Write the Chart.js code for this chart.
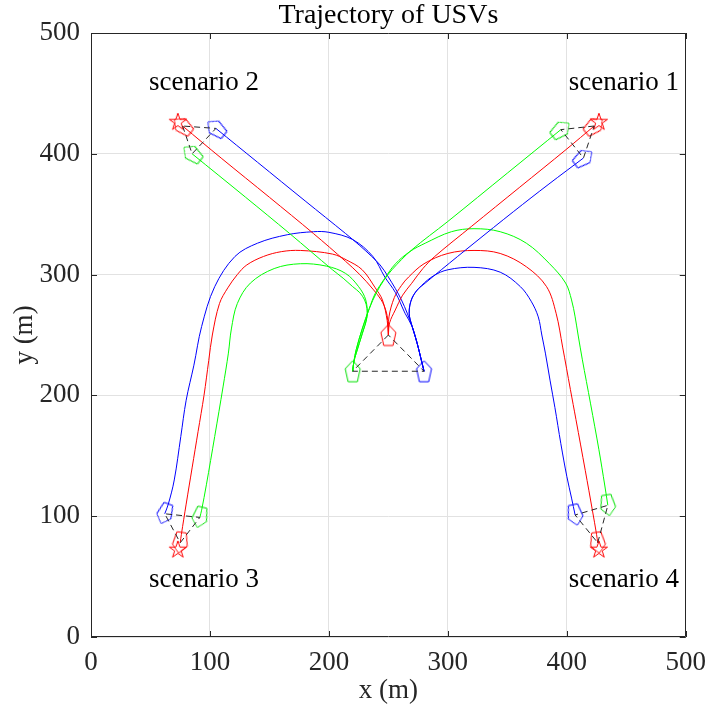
<!DOCTYPE html>
<html><head><meta charset="utf-8">
<script src="https://cdn.jsdelivr.net/npm/chart.js@4/dist/chart.umd.min.js"></script>
<style>html,body{margin:0;padding:0;background:#fff}#wrap{width:716px;height:710px;position:relative}</style>
</head><body><div id="wrap"><canvas id="c"></canvas></div>
<script>
// ---- data (metres) ----
const axisTicks = [0, 100, 200, 300, 400, 500];
const titleText = 'Trajectory of USVs';
const xTitle = 'x (m)';
const yTitle = 'y (m)';
const scenarioNames = ['scenario 1', 'scenario 2', 'scenario 3', 'scenario 4'];
const scenarioAnchors = [[448, 459], [95, 459], [95, 47], [448, 47]];
const goals = [[427, 427], [73, 427], [73, 73], [427, 73]];

// scenario 1 (to top right)
const s1Red   = [[250,250],[251,260],[255.8,270.7],[262,283],[269.6,292.8],[279,305],[289,315],[320,340],[360,372],[400,404],[423,423]];
const s1Green = [[220,220],[221,228],[223,238],[228,255],[234,272],[240,285],[246,295],[253,304],[269.6,320.4],[300,344],[350,384],[395,420]];
const s1Blue  = [[280,220],[277,232],[274,244],[270,257],[267.5,268],[269,278],[274,287],[281,293],[294.5,304],[322,326],[355,352],[385,375],[414,396.5]];
// scenario 2 (to top left)
const s2Red   = [[250,250],[249.5,262],[248,270],[244,279],[237,288],[226,300],[214,311],[187,334],[150,364],[110,396],[77,423]];
const s2Green = [[220,220],[221,228],[223,235],[228,251],[232,265],[232,272],[230,279],[226,285],[220,290],[212,297],[203,304],[167,334],[130,364],[85,400]];
const s2Blue  = [[280,220],[277,232],[275,240],[270,257],[261,279],[250,298],[243,308],[236,315],[226,324],[214,334],[180,361],[140,393],[105,421]];
// scenario 3 (to bottom left)
const s3Red   = [[250,250],[249,262],[245,279],[239,289],[228,304],[215,312],[203,317],[176,320],[160,319],[145,315],[131,308],[123,300],[115,289],[108,276],[102,250],[99,229],[95,200],[90,170],[85,140],[80,110],[76,85],[75,78]];
const s3Green = [[220,220],[221,228],[223,235],[228,251],[232,265],[231,279],[225,290],[214,301],[198,307],[176,309],[154,305],[134,293],[123,276],[118,255],[115.5,235],[111,207],[104,166],[97,126],[93,105],[91.5,99]];
const s3Blue  = [[280,220],[277,232],[275,240],[270,257],[264,268],[256,285],[247,298],[237,315],[220,329],[200,335],[187,335.5],[165,333],[140,326],[121,315],[104,290],[93,257],[86.5,225],[80,196],[75.5,166],[70,130],[65,110],[62,102]];
// scenario 4 (to bottom right)
const s4Red   = [[250,250],[250.5,265],[255,281],[261,291],[267,298],[280,309],[300,317.5],[322,320],[344,317.5],[366,306.5],[383,290],[391,268],[396.5,240],[403,205],[407.7,180],[415.5,138],[421.5,105],[425,85],[426,78]];
const s4Green = [[220,220],[221,228],[223,238],[228,255],[234,272],[239,284.5],[247,297],[256,309],[268,319],[281,326],[303,335.5],[322,338],[344,335.5],[366,326],[385.5,309],[399,293],[404,279],[407,265],[409.5,250],[413,230],[420,193],[427,155],[432,125],[434.5,109]];
const s4Blue  = [[280,220],[277,232],[274,244],[270,257],[267.5,268],[270,281],[278,291],[288,299],[300,304],[322,306],[344,302],[361,290],[370,278],[376,265],[379,250],[382,235],[386,212],[390,190],[395,160],[400,133],[404,115],[407,101]];

const scenarios = [
  {red: s1Red, green: s1Green, blue: s1Blue},
  {red: s2Red, green: s2Green, blue: s2Blue},
  {red: s3Red, green: s3Green, blue: s3Blue},
  {red: s4Red, green: s4Green, blue: s4Blue}
];

// ---- marker images ----
function makePentagon(color){
  const W = 15, H = 21, m = 2;
  const c = document.createElement('canvas');
  c.width = W + 2*m; c.height = H + 2*m;
  const g = c.getContext('2d');
  const cx = c.width/2, cy = c.height/2;
  g.strokeStyle = color; g.lineWidth = 1;
  g.beginPath();
  g.moveTo(cx, cy - H/2);
  g.lineTo(cx + W/2, cy - H/2 + 0.38*H);
  g.lineTo(cx + 0.31*W, cy + H/2);
  g.lineTo(cx - 0.31*W, cy + H/2);
  g.lineTo(cx - W/2, cy - H/2 + 0.38*H);
  g.closePath();
  g.stroke();
  return c;
}
function makeStar(color){
  const R = 9, r = R*0.382, m = 2;
  const c = document.createElement('canvas');
  c.width = 2*R + 2*m; c.height = 2*R + 2*m;
  const g = c.getContext('2d');
  const cx = c.width/2, cy = c.height/2 + 1;
  g.strokeStyle = color; g.lineWidth = 1;
  g.beginPath();
  for (let i = 0; i < 10; i++){
    const rad = (i % 2 === 0) ? R : r;
    const a = -Math.PI/2 + i*Math.PI/5;
    const px = cx + rad*Math.cos(a), py = cy + rad*Math.sin(a);
    if (i === 0) g.moveTo(px, py); else g.lineTo(px, py);
  }
  g.closePath(); g.stroke();
  return c;
}
const COLORS = {red: '#ff0000', green: '#00ff00', blue: '#0000ff'};
const pent = {red: makePentagon('#ff0000'), green: makePentagon('#00e000'), blue: makePentagon('#0000ff')};
const starImg = makeStar('#ff0000');

const toPts = a => a.map(([x, y]) => ({x, y}));
function endHeading(arr){
  const n = arr.length;
  const dx = arr[n-1][0] - arr[n-2][0], dy = arr[n-1][1] - arr[n-2][1];
  return Math.atan2(dx, dy) * 180 / Math.PI;
}
function trajDataset(arr, key, showStart){
  const last = arr.length - 1;
  const rot = endHeading(arr);
  return {
    data: toPts(arr), showLine: true, borderColor: COLORS[key], borderWidth: 1,
    tension: 0.35, fill: false,
    pointStyle: pent[key],
    pointRadius: ctx => (ctx.dataIndex === last || (showStart && ctx.dataIndex === 0)) ? 1 : 0,
    pointHoverRadius: 0,
    pointRotation: ctx => ctx.dataIndex === last ? rot : 0
  };
}
function formationDataset(r, g, b){
  return {
    data: toPts([r, g, b, r]), showLine: true, borderColor: '#262626', borderWidth: 1,
    borderDash: [6, 4], tension: 0, pointRadius: 0, pointHoverRadius: 0, fill: false
  };
}

const datasets = [];
datasets.push(formationDataset(s1Red[0], s1Green[0], s1Blue[0]));
scenarios.forEach(s => {
  datasets.push(formationDataset(s.red[s.red.length-1], s.green[s.green.length-1], s.blue[s.blue.length-1]));
});
scenarios.forEach((s, i) => {
  datasets.push(trajDataset(s.blue, 'blue', i === 0));
  datasets.push(trajDataset(s.green, 'green', i === 0));
  datasets.push(trajDataset(s.red, 'red', i === 0));
});
datasets.push({
  data: toPts(goals), showLine: false, pointStyle: starImg, pointRadius: 1, pointHoverRadius: 0
});

const SERIF = '"Liberation Serif", "Times New Roman", serif';
const TXT = '#262626';

const frame = {
  id: 'frame',
  beforeDatasetsDraw(chart){
    const {ctx, chartArea: a, scales: {x, y}} = chart;
    ctx.save();
    ctx.strokeStyle = TXT; ctx.lineWidth = 1;
    ctx.beginPath();
    ctx.rect(Math.round(a.left) + 0.5, Math.round(a.top) + 0.5, Math.round(a.right - a.left) - 1, Math.round(a.bottom - a.top) - 1);
    const tl = 6;
    axisTicks.forEach(v => {
      const px = Math.round(x.getPixelForValue(v)) + 0.5;
      ctx.moveTo(px, a.bottom); ctx.lineTo(px, a.bottom - tl);
      ctx.moveTo(px, a.top); ctx.lineTo(px, a.top + tl);
      const py = Math.round(y.getPixelForValue(v)) + 0.5;
      ctx.moveTo(a.left, py); ctx.lineTo(a.left + tl, py);
      ctx.moveTo(a.right, py); ctx.lineTo(a.right - tl, py);
    });
    ctx.stroke();
    ctx.restore();
  },
  afterDatasetsDraw(chart){
    const {ctx, chartArea: a, scales: {x, y}} = chart;
    ctx.save();
    ctx.fillStyle = '#000';
    ctx.textAlign = 'center'; ctx.textBaseline = 'middle';
    ctx.font = '28px ' + SERIF;
    ctx.fillText(titleText, (a.left + a.right) / 2, 16);
    ctx.font = '27px ' + SERIF;
    scenarioNames.forEach((t, i) => {
      ctx.fillText(t, x.getPixelForValue(scenarioAnchors[i][0]), y.getPixelForValue(scenarioAnchors[i][1]));
    });
    ctx.restore();
  }
};

new Chart(document.getElementById('c'), {
  type: 'scatter',
  data: {datasets},
  options: {
    responsive: true, maintainAspectRatio: false, animation: false,
    devicePixelRatio: 1,
    layout: {padding: {left: 0, right: 21, top: 33, bottom: 0}},
    plugins: {
      legend: {display: false}, tooltip: {enabled: false}, title: {display: false}
    },
    scales: {
      x: {
        type: 'linear', min: 0, max: 500,
        afterBuildTicks: s => { s.ticks = axisTicks.map(v => ({value: v})); },
        afterFit: s => { s.height = 73; },
        grid: {color: '#e2e2e2', drawTicks: false, lineWidth: 1},
        border: {display: false},
        ticks: {color: TXT, font: {family: SERIF, size: 27}, padding: 10, maxRotation: 0},
        title: {display: true, text: xTitle, color: TXT, font: {family: SERIF, size: 27}, padding: {top: 0, bottom: 3}}
      },
      y: {
        type: 'linear', min: 0, max: 500,
        afterBuildTicks: s => { s.ticks = axisTicks.map(v => ({value: v})); },
        afterFit: s => { s.width = 91; },
        grid: {color: '#e2e2e2', drawTicks: false, lineWidth: 1},
        border: {display: false},
        ticks: {color: TXT, font: {family: SERIF, size: 27}, padding: 11},
        title: {display: true, text: yTitle, color: TXT, font: {family: SERIF, size: 27}, padding: {top: 9, bottom: 0}}
      }
    }
  },
  plugins: [frame]
});
</script></body></html>
